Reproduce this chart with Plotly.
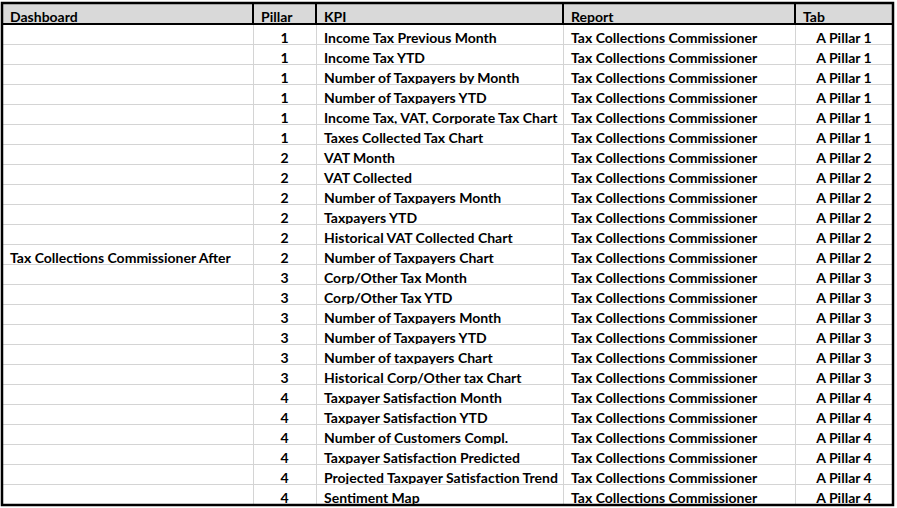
import plotly.graph_objects as go

headers = ["Dashboard", "Pillar", "KPI", "Report", "Tab"]

pillar = [1, 1, 1, 1, 1, 1, 2, 2, 2, 2, 2, 2, 3, 3, 3, 3, 3, 3, 4, 4, 4, 4, 4, 4]
kpi = [
    "Income Tax Previous Month", "Income Tax YTD", "Number of Taxpayers by Month",
    "Number of Taxpayers YTD", "Income Tax, VAT, Corporate Tax Chart", "Taxes Collected Tax Chart",
    "VAT Month", "VAT Collected", "Number of Taxpayers Month", "Taxpayers YTD",
    "Historical VAT Collected Chart", "Number of Taxpayers Chart",
    "Corp/Other Tax Month", "Corp/Other Tax YTD", "Number of Taxpayers Month",
    "Number of Taxpayers YTD", "Number of taxpayers Chart", "Historical Corp/Other tax Chart",
    "Taxpayer Satisfaction Month", "Taxpayer Satisfaction YTD", "Number of Customers Compl.",
    "Taxpayer Satisfaction Predicted", "Projected Taxpayer Satisfaction Trend", "Sentiment Map",
]
dashboard = [""] * 24
dashboard[11] = "Tax Collections Commissioner After"
report = ["Tax Collections Commissioner"] * 24
tab = ["A Pillar %d" % p for p in pillar]


def nowrap(col):
    # plotly wraps table text on plain spaces, excel doesn't
    return [s.replace(" ", "\u00a0") for s in col]


W, H = 897, 508
x0, x1 = 2, 893
y0, y1 = 3, 505

fig = go.Figure()
fig.add_trace(go.Table(
    domain=dict(x=[x0 / W, x1 / W], y=[1 - y1 / H, 1 - y0 / H]),
    columnwidth=[251, 63, 247, 232, 98],
    header=dict(
        values=headers,
        fill_color="#d9d9d9",
        line=dict(color="black", width=2),
        align="left",
        height=21,
        font=dict(family="Lato", size=14, color="black", weight="bold"),
    ),
    cells=dict(
        values=[nowrap(dashboard), pillar, nowrap(kpi), nowrap(report), nowrap(tab)],
        fill_color="white",
        line=dict(color="#d4d4d4", width=1),
        align=["left", "center", "left", "left", "center"],
        height=20,
        font=dict(family="Lato", size=14, color="black", weight="bold"),
    ),
))

fig.update_layout(
    width=W, height=H,
    margin=dict(l=0, r=0, t=0, b=0),
    paper_bgcolor="white",
    shapes=[dict(type="rect", xref="paper", yref="paper",
                 x0=x0 / W, x1=x1 / W, y0=1 - y1 / H, y1=1 - y0 / H,
                 line=dict(color="black", width=2.5), layer="above")],
)

fig.write_html("out.html", config={"displayModeBar": False},
               post_script="document.body.style.margin='0';")
